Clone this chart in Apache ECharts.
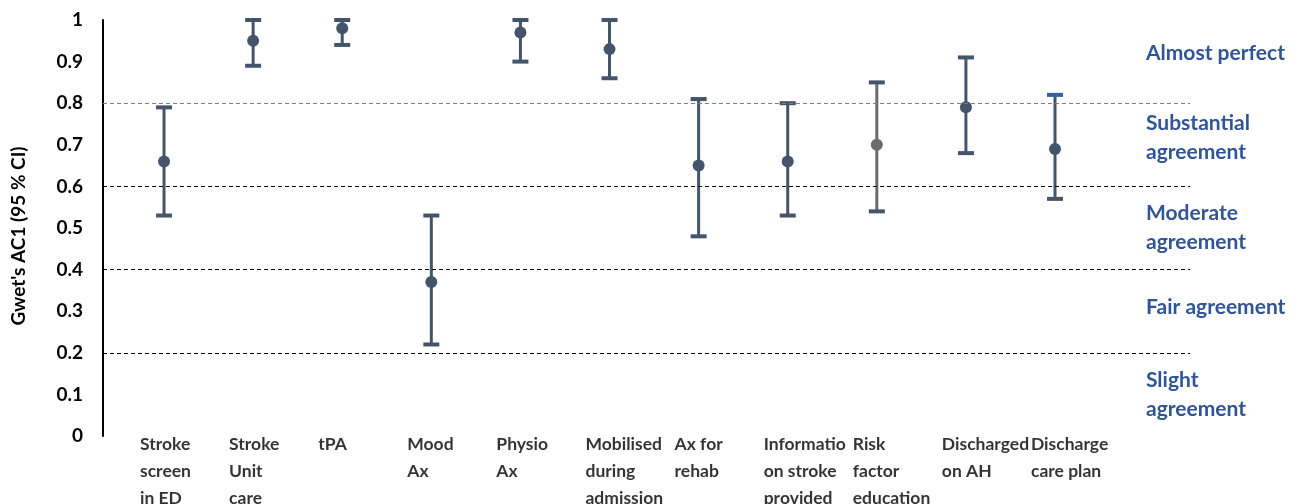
<!DOCTYPE html>
<html>
<head>
<meta charset="utf-8">
<script src="https://cdn.jsdelivr.net/npm/echarts@6/dist/echarts.min.js"></script>
<style>
html,body{margin:0;padding:0;background:#fff;}
#main{width:1300px;height:504px;}
</style>
</head>
<body>
<div id="main"></div>
<script>
// ---- data ----
var categories = ['Stroke\nscreen\nin ED', 'Stroke\nUnit\ncare', 'tPA', 'Mood\nAx', 'Physio\nAx',
  'Mobilised\nduring\nadmission', 'Ax for\nrehab', 'Information\non stroke\nprovided',
  'Risk\nfactor\neducation', 'Discharged\non AH', 'Discharge\ncare plan'];
var estimate = [0.66, 0.95, 0.98, 0.37, 0.97, 0.93, 0.65, 0.66, 0.70, 0.79, 0.69];
var lowerCI  = [0.53, 0.89, 0.94, 0.22, 0.90, 0.86, 0.48, 0.53, 0.54, 0.68, 0.57];
var upperCI  = [0.79, 1.00, 1.00, 0.53, 1.00, 1.00, 0.81, 0.80, 0.85, 0.91, 0.82];
var yTicks = [0, 0.1, 0.2, 0.3, 0.4, 0.5, 0.6, 0.7, 0.8, 0.9, 1];
var thresholds = [0.2, 0.4, 0.6, 0.8];
var bandEdges = [0, 0.2, 0.4, 0.6, 0.8, 1];
var bandLabels = ['Slight\nagreement', 'Fair agreement', 'Moderate\nagreement', 'Substantial\nagreement', 'Almost perfect'];

// ---- styles ----
var FONT = 'Lato';
var MAIN = '#44546A';
var GREY = '#6B6B6B';
var CAPBLUE = '#2E62A0';
var ANNOT = '#2F5597';
var xMin = -0.685, xMax = 11.515;
var labelShift = -0.27;
var bandLabelDy = [0, -4, 0, -7, -8];

var chart = echarts.init(document.getElementById('main'), null, {renderer: 'canvas'});

var errData = categories.map(function (c, i) { return [i, lowerCI[i], upperCI[i]]; });
var ptData = categories.map(function (c, i) { return [i, estimate[i]]; });
var labelData = categories.map(function (c, i) { return {value: [i + labelShift, 0], name: c}; });

var option = {
  animation: false,
  grid: {left: 103, right: 110, top: 20, bottom: 68, containLabel: false, outerBoundsMode: 'none'},
  xAxis: {
    type: 'value', min: xMin, max: xMax,
    axisLine: {show: false}, axisTick: {show: false}, splitLine: {show: false},
    axisLabel: {show: false}
  },
  yAxis: {
    type: 'value', min: 0, max: 1, interval: 0.1,
    name: "Gwet's AC1 (95 % CI)", nameLocation: 'middle', nameRotate: 90, nameGap: 75,
    nameTextStyle: {fontFamily: FONT, fontWeight: 'bold', fontSize: 19, color: '#000', padding: [0, 0, 0, -16]},
    axisLine: {show: true, onZero: false, lineStyle: {color: '#000', width: 2}},
    axisTick: {show: false}, splitLine: {show: false},
    axisLabel: {
      margin: 20, fontFamily: FONT, fontWeight: 'bold', fontSize: 19, color: '#000',
      formatter: function (v) { return (v === 0 || v === 1) ? String(v) : v.toFixed(1); }
    }
  },
  series: [
    {
      type: 'line', data: [], z: 1, silent: true,
      markLine: {
        silent: true, symbol: 'none', label: {show: false},
        data: thresholds.map(function (t) {
          return {yAxis: t, lineStyle: {color: t === 0.8 ? '#808080' : '#000', type: [4, 3], width: 1}};
        })
      },
      markArea: {
        silent: true,
        itemStyle: {color: 'rgba(0,0,0,0)'},
        data: bandLabels.map(function (name, k) {
          return [{
            yAxis: bandEdges[k], name: name,
            label: {
              show: true, position: 'right', distance: 0, offset: [-44, bandLabelDy[k]],
              fontFamily: FONT, fontWeight: 'bold', fontSize: 21, lineHeight: 29, color: ANNOT, align: 'left'
            }
          }, {yAxis: bandEdges[k + 1]}];
        })
      }
    },
    {
      // category labels under the axis, placed through the x scale
      type: 'scatter', z: 4, silent: true, clip: false,
      symbol: 'circle', symbolSize: 0,
      data: labelData,
      itemStyle: {color: 'rgba(0,0,0,0)'},
      label: {
        show: true, position: [0, -5], align: 'left', verticalAlign: 'top',
        formatter: '{b}',
        fontFamily: FONT, fontWeight: 'bold', fontSize: 17.5, lineHeight: 27, color: '#000',
        width: 90, overflow: 'truncate', ellipsis: ''
      },
      labelLayout: {hideOverlap: false}
    },
    {
      type: 'custom', z: 2, silent: true,
      data: errData,
      encode: {x: 0, y: [1, 2]},
      renderItem: function (params, api) {
        var idx = params.dataIndex;
        var x = api.value(0);
        var lo = api.coord([x, api.value(1)]);
        var hi = api.coord([x, api.value(2)]);
        var stemColor = /^Risk/.test(categories[idx]) ? GREY : MAIN;
        var topCapColor = /^Discharge\ncare/.test(categories[idx]) ? CAPBLUE : MAIN;
        var half = 8;
        return {
          type: 'group',
          children: [
            {type: 'line', shape: {x1: hi[0], y1: hi[1], x2: lo[0], y2: lo[1]}, style: {stroke: stemColor, lineWidth: 3}},
            {type: 'line', shape: {x1: hi[0] - half, y1: hi[1], x2: hi[0] + half, y2: hi[1]}, style: {stroke: topCapColor, lineWidth: 4}},
            {type: 'line', shape: {x1: lo[0] - half, y1: lo[1], x2: lo[0] + half, y2: lo[1]}, style: {stroke: MAIN, lineWidth: 4}}
          ]
        };
      }
    },
    {
      type: 'scatter', z: 3, silent: true,
      symbol: 'circle', symbolSize: 12,
      data: ptData,
      itemStyle: {
        opacity: 1,
        color: function (p) { return /^Risk/.test(categories[p.dataIndex]) ? GREY : MAIN; }
      }
    }
  ]
};
chart.setOption(option);
</script>
</body>
</html>
